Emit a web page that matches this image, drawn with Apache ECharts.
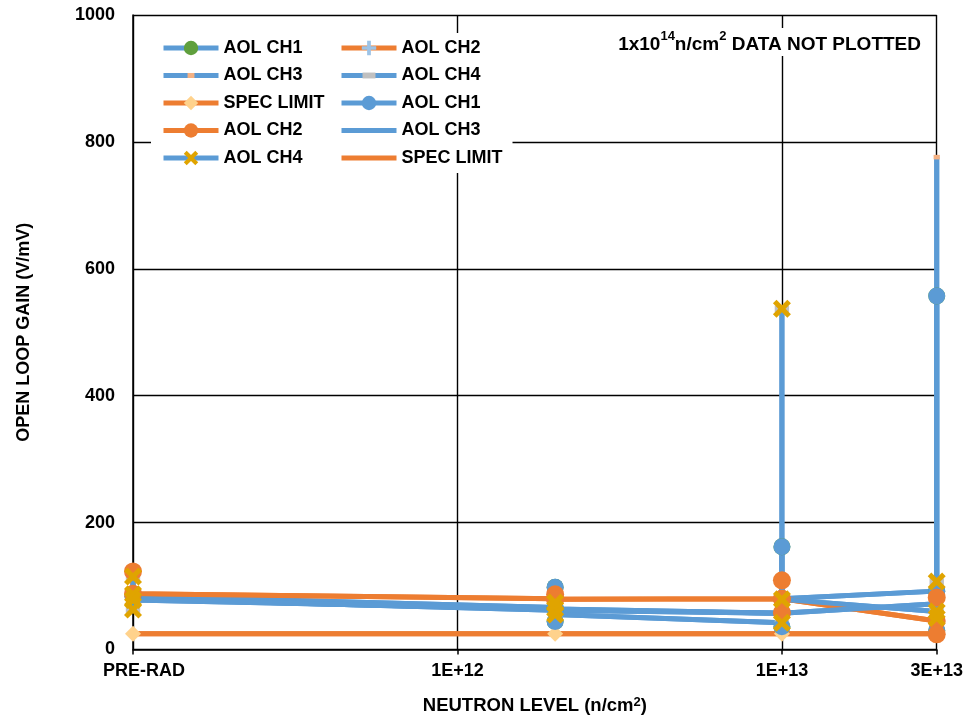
<!DOCTYPE html>
<html><head><meta charset="utf-8">
<script src="https://cdn.jsdelivr.net/npm/echarts@6/dist/echarts.min.js"></script>
<style>html,body{margin:0;padding:0;background:#fff;overflow:hidden}#c{width:966px;height:720px}</style>
</head><body><div id="c"></div>
<script>
// neutron levels (n/cm^2); PRE-RAD plotted at 1E+11
const levels = [1e11, 2e12, 1e13, 3e13];
const xTickLevels = [1e11, 1e12, 1e13, 3e13];
const xTickLabels = ['PRE-RAD', '1E+12', '1E+13', '3E+13'];
// open loop gain (V/mV), several units per level, in plotting order
const aolCh1 = [[84], [66, 98, 44, 64], [57, 162, 36, 80], [92, 557, 30]];
const aolCh2 = [[123, 88], [80, 87, 79], [80, 109, 58, 80], [45, 82, 24]];
const aolCh3 = [[80], [62], [57], [72, 776]];
const aolCh4 = [[115, 87, 63, 78], [64, 74, 55], [42, 537, 79], [60, 107, 50]];
const specLimit = [[25], [25], [25], [25]];
const yMin = 0, yMax = 1000, yStep = 200;

const BLUE = '#5b9bd5', ORANGE = '#ed7d31';
const FONT = '"Liberation Sans", Arial, sans-serif';
const lg = v => Math.log10(v);
function pts(vals) {
  const out = [];
  vals.forEach((arr, i) => arr.forEach(v => out.push([lg(levels[i]), v])));
  return out;
}
const X_PATH = 'path://M0,2 L2,0 L5,3 L8,0 L10,2 L7,5 L10,8 L8,10 L5,7 L2,10 L0,8 L3,5 Z';
const PLUS_PATH = 'path://M3.7,0 L6.3,0 L6.3,3.7 L10,3.7 L10,6.3 L6.3,6.3 L6.3,10 L3.7,10 L3.7,6.3 L0,6.3 L0,3.7 L3.7,3.7 Z';
const SQ_PATH = 'path://M0,0 M20,20 M5.2,6.5 L14.8,6.5 L14.8,13.5 L5.2,13.5 Z';
const DASH_PATH = 'path://M0,0 M20,20 M1,5.9 L19,5.9 L19,14.1 L1,14.1 Z';
const EMPTY_PATH = 'path://M0,0 M10,10';

function mk(name, vals, lineColor, symbol, symbolSize, symColor) {
  return {
    name, type: 'line', data: pts(vals), clip: false,
    symbol: symbol || EMPTY_PATH, symbolSize: symbolSize || 10, showSymbol: !!symbol,
    symbolKeepAspect: true,
    lineStyle: { color: lineColor, width: 5 },
    itemStyle: { color: symColor || lineColor },
    emphasis: { disabled: true }, animation: false
  };
}
const series = [
  mk('AOL CH1', aolCh1, BLUE, 'circle', 17, '#5f9f3d'),
  mk('AOL CH2', aolCh2, ORANGE, PLUS_PATH, 15, '#9dc3e6'),
  mk('AOL CH3', aolCh3, BLUE, SQ_PATH, 13, '#f4b183'),
  mk('AOL CH4', aolCh4, BLUE, DASH_PATH, 16, '#c0c0c0'),
  mk('SPEC LIMIT', specLimit, ORANGE, 'diamond', 16, '#ffd28c'),
  mk('AOL CH1 ', aolCh1, BLUE, 'circle', 17, BLUE),
  mk('AOL CH2 ', aolCh2, ORANGE, 'circle', 18, ORANGE),
  mk('AOL CH3 ', aolCh3, BLUE, null),
  mk('AOL CH4 ', aolCh4, BLUE, X_PATH, 18, '#e0a400'),
  mk('SPEC LIMIT ', specLimit, ORANGE, null)
];

const chart = echarts.init(document.getElementById('c'), null, { renderer: 'canvas', width: 966, height: 720 });
chart.setOption({
  animation: false,
  textStyle: { fontFamily: FONT },
  grid: { left: 133, right: 25, top: 15, bottom: 70, containLabel: false },
  title: {
    text: '{n|1x10}{s|14}{n|n/cm}{s|2}{n| DATA NOT PLOTTED}',
    right: 39, top: 28, padding: [2, 6, 2, 6], backgroundColor: '#fff',
    textStyle: {
      rich: {
        n: { fontSize: 19, fontWeight: 'bold', color: '#000', fontFamily: FONT, lineHeight: 24, verticalAlign: 'bottom' },
        s: { fontSize: 13, fontWeight: 'bold', color: '#000', fontFamily: FONT, lineHeight: 24, verticalAlign: 'top' }
      }
    }
  },
  legend: {
    left: 151, top: 33, width: 364,
    padding: [6, 5, 6, 10], backgroundColor: '#fff',
    itemWidth: 55, itemHeight: 18, itemGap: 9.5,
    selectedMode: false,
    lineStyle: { width: 5 },
    textStyle: { fontSize: 18, fontWeight: 'bold', color: '#000', fontFamily: FONT, width: 106, lineHeight: 18 },
    data: series.map(s => s.name)
  },
  xAxis: {
    type: 'value', min: lg(xTickLevels[0]), max: lg(xTickLevels[3]),
    name: 'NEUTRON LEVEL (n/cm{s|2})', nameLocation: 'middle', nameGap: 46,
    nameTextStyle: { fontSize: 18.5, fontWeight: 'bold', color: '#000', fontFamily: FONT,
      rich: { s: { fontSize: 13, fontWeight: 'bold', color: '#000', verticalAlign: 'top', lineHeight: 20 } } },
    axisLine: { show: true, onZero: false, lineStyle: { color: '#000', width: 1.5 } },
    axisTick: { show: true, length: 5, inside: false, customValues: xTickLevels.map(lg), lineStyle: { color: '#000', width: 1.5 } },
    splitLine: { show: true, lineStyle: { color: '#000', width: 1.4 } },
    axisLabel: {
      customValues: xTickLevels.map(lg), margin: 13,
      fontSize: 18, fontWeight: 'bold', color: '#000', fontFamily: FONT,
      showMinLabel: true, showMaxLabel: true,
      formatter: v => {
        let best = 0;
        xTickLevels.forEach((t, i) => { if (Math.abs(lg(t) - v) < Math.abs(lg(xTickLevels[best]) - v)) best = i; });
        return best === 0 ? '{p|' + xTickLabels[0] + '}' : xTickLabels[best];
      },
      rich: { p: { fontSize: 18, fontWeight: 'bold', color: '#000', fontFamily: FONT, padding: [0, 0, 0, 22] } }
    }
  },
  yAxis: {
    type: 'value', min: yMin, max: yMax, interval: yStep,
    name: 'OPEN LOOP GAIN (V/mV)', nameLocation: 'middle', nameGap: 100,
    nameTextStyle: { fontSize: 18, fontWeight: 'bold', color: '#000', fontFamily: FONT },
    axisLine: { show: true, lineStyle: { color: '#000', width: 1.5 } },
    axisTick: { show: false },
    splitLine: { show: true, lineStyle: { color: '#000', width: 1.4 } },
    axisLabel: { margin: 18, fontSize: 18, fontWeight: 'bold', color: '#000', fontFamily: FONT, formatter: v => String(v) }
  },
  series
});
</script>
</body></html>
